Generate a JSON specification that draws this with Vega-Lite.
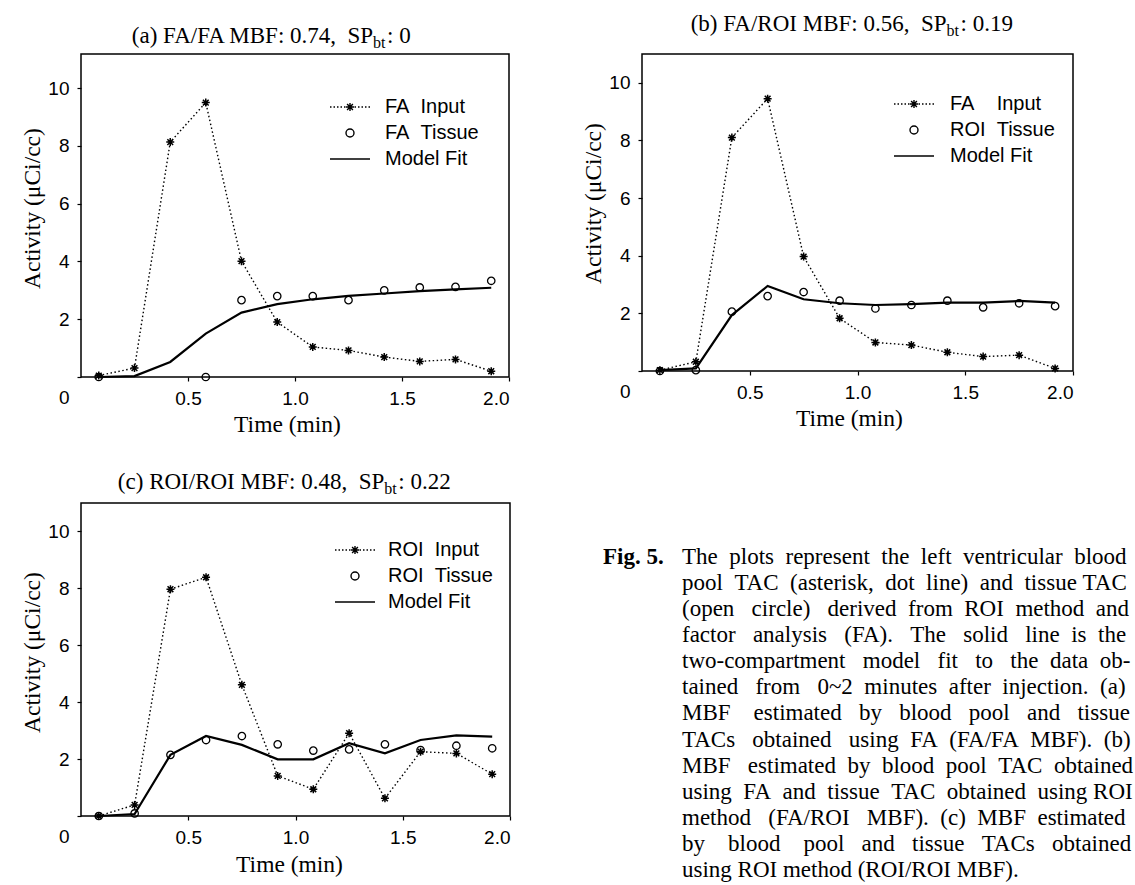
{
  "$schema": "https://vega.github.io/schema/vega-lite/v6.json",
  "autosize": {"type": "none"},
  "padding": {"left": 81, "top": 54, "right": 1054, "bottom": 831},
  "background": "white",
  "config": {
    "view": {"stroke": "black", "strokeWidth": 1.5},
    "axis": {"labelFont": "Liberation Sans", "labelFontSize": 19, "labelColor": "black", "titleFont": "Liberation Serif", "titleFontSize": 23.5, "titleFontWeight": "normal", "titleColor": "black", "tickColor": "black", "tickSize": 4, "tickWidth": 1.2, "domain": false, "grid": false, "labelPadding": 8},
    "legend": {"labelFont": "Liberation Sans", "labelFontSize": 20, "labelColor": "black", "symbolSize": 100, "rowPadding": 6, "padding": 0, "labelLimit": 400, "symbolStrokeColor": "black", "symbolStrokeWidth": 1.4}
  },
  "resolve": {"scale": {"shape": "independent"}, "legend": {"shape": "independent"}},
  "datasets": {
    "a": [
      {"t": 0.083, "inp": 0.05, "tis": 0, "fit": 0},
      {"t": 0.25, "inp": 0.31, "tis": null, "fit": 0.03},
      {"t": 0.417, "inp": 8.13, "tis": null, "fit": 0.52},
      {"t": 0.583, "inp": 9.5, "tis": 0, "fit": 1.5},
      {"t": 0.75, "inp": 4.01, "tis": 2.66, "fit": 2.23},
      {"t": 0.917, "inp": 1.9, "tis": 2.8, "fit": 2.52},
      {"t": 1.083, "inp": 1.04, "tis": 2.8, "fit": 2.69},
      {"t": 1.25, "inp": 0.92, "tis": 2.66, "fit": 2.81},
      {"t": 1.417, "inp": 0.69, "tis": 3.0, "fit": 2.89},
      {"t": 1.583, "inp": 0.54, "tis": 3.1, "fit": 2.97},
      {"t": 1.75, "inp": 0.61, "tis": 3.12, "fit": 3.03},
      {"t": 1.917, "inp": 0.2, "tis": 3.33, "fit": 3.09}
    ],
    "b": [
      {"t": 0.083, "inp": 0.03, "tis": 0, "fit": 0.03},
      {"t": 0.25, "inp": 0.32, "tis": 0.03, "fit": 0.09},
      {"t": 0.417, "inp": 8.1, "tis": 2.06, "fit": 1.94},
      {"t": 0.583, "inp": 9.45, "tis": 2.6, "fit": 2.95},
      {"t": 0.75, "inp": 3.97, "tis": 2.74, "fit": 2.49},
      {"t": 0.917, "inp": 1.83, "tis": 2.44, "fit": 2.35},
      {"t": 1.083, "inp": 0.99, "tis": 2.17, "fit": 2.29},
      {"t": 1.25, "inp": 0.9, "tis": 2.29, "fit": 2.32},
      {"t": 1.417, "inp": 0.65, "tis": 2.44, "fit": 2.37},
      {"t": 1.583, "inp": 0.5, "tis": 2.21, "fit": 2.37},
      {"t": 1.75, "inp": 0.55, "tis": 2.35, "fit": 2.43},
      {"t": 1.917, "inp": 0.09, "tis": 2.25, "fit": 2.37}
    ],
    "c": [
      {"t": 0.083, "inp": 0.0, "tis": 0, "fit": 0},
      {"t": 0.25, "inp": 0.39, "tis": 0.09, "fit": 0.07},
      {"t": 0.417, "inp": 7.97, "tis": 2.15, "fit": 2.15},
      {"t": 0.583, "inp": 8.39, "tis": 2.67, "fit": 2.81},
      {"t": 0.75, "inp": 4.61, "tis": 2.81, "fit": 2.5},
      {"t": 0.917, "inp": 1.41, "tis": 2.52, "fit": 1.99},
      {"t": 1.083, "inp": 0.94, "tis": 2.3, "fit": 1.99},
      {"t": 1.25, "inp": 2.91, "tis": 2.34, "fit": 2.56},
      {"t": 1.417, "inp": 0.62, "tis": 2.52, "fit": 2.2},
      {"t": 1.583, "inp": 2.26, "tis": 2.32, "fit": 2.67},
      {"t": 1.75, "inp": 2.2, "tis": 2.47, "fit": 2.83},
      {"t": 1.917, "inp": 1.47, "tis": 2.38, "fit": 2.79}
    ],
    "cap": [
      {"line": 1, "col": "label", "txt": "Fig. 5."},
      {"line": 1, "col": "body", "txt": "The\u00a0\u00a0plots\u00a0\u00a0represent\u00a0\u00a0the\u00a0\u00a0left\u00a0\u00a0ventricular\u00a0\u00a0blood"},
      {"line": 2, "col": "body", "txt": "pool\u00a0\u00a0TAC\u00a0\u00a0(asterisk,\u00a0\u00a0dot\u00a0\u00a0line)\u00a0\u00a0and\u00a0\u00a0tissue\u00a0TAC"},
      {"line": 3, "col": "body", "txt": "(open\u00a0\u00a0\u00a0circle)\u00a0\u00a0\u00a0derived\u00a0\u00a0from\u00a0\u00a0ROI\u00a0\u00a0method\u00a0\u00a0and"},
      {"line": 4, "col": "body", "txt": "factor\u00a0\u00a0\u00a0analysis\u00a0\u00a0\u00a0(FA).\u00a0\u00a0\u00a0The\u00a0\u00a0\u00a0solid\u00a0\u00a0\u00a0line\u00a0\u00a0is\u00a0\u00a0the"},
      {"line": 5, "col": "body", "txt": "two-compartment\u00a0\u00a0\u00a0model\u00a0\u00a0\u00a0fit\u00a0\u00a0\u00a0to\u00a0\u00a0\u00a0the\u00a0\u00a0data\u00a0\u00a0ob-"},
      {"line": 6, "col": "body", "txt": "tained\u00a0\u00a0\u00a0from\u00a0\u00a0\u00a00~2\u00a0\u00a0minutes\u00a0\u00a0after\u00a0\u00a0injection.\u00a0\u00a0(a)"},
      {"line": 7, "col": "body", "txt": "MBF\u00a0\u00a0\u00a0\u00a0estimated\u00a0\u00a0\u00a0by\u00a0\u00a0\u00a0blood\u00a0\u00a0\u00a0pool\u00a0\u00a0\u00a0and\u00a0\u00a0\u00a0tissue"},
      {"line": 8, "col": "body", "txt": "TACs\u00a0\u00a0\u00a0obtained\u00a0\u00a0\u00a0using\u00a0\u00a0FA\u00a0\u00a0(FA/FA\u00a0\u00a0MBF).\u00a0\u00a0(b)"},
      {"line": 9, "col": "body", "txt": "MBF\u00a0\u00a0\u00a0estimated\u00a0\u00a0by\u00a0\u00a0blood\u00a0\u00a0pool\u00a0\u00a0TAC\u00a0\u00a0obtained"},
      {"line": 10, "col": "body", "txt": "using\u00a0\u00a0FA\u00a0\u00a0and\u00a0\u00a0tissue\u00a0\u00a0TAC\u00a0\u00a0obtained\u00a0\u00a0using\u00a0ROI"},
      {"line": 11, "col": "body", "txt": "method\u00a0\u00a0\u00a0(FA/ROI\u00a0\u00a0\u00a0MBF).\u00a0\u00a0(c)\u00a0\u00a0MBF\u00a0\u00a0estimated"},
      {"line": 12, "col": "body", "txt": "by\u00a0\u00a0\u00a0\u00a0blood\u00a0\u00a0\u00a0\u00a0pool\u00a0\u00a0\u00a0and\u00a0\u00a0\u00a0tissue\u00a0\u00a0\u00a0TACs\u00a0\u00a0\u00a0obtained"},
      {"line": 13, "col": "body", "txt": "using ROI method (ROI/ROI MBF)."}
    ]
  },
  "concat": [
    {
      "width": 428, "height": 323,
      "data": {"name": "a"},
      "layer": [
        {"mark": {"type": "line", "color": "black", "strokeWidth": 2.2},
         "encoding": {
           "x": {"field": "t", "type": "quantitative", "scale": {"domain": [0, 2], "nice": false, "zero": false}, "axis": {"values": [0.5, 1, 1.5, 2], "format": ".1f", "title": "Time (min)", "titleX": 206, "titleY": 35}},
           "y": {"field": "fit", "type": "quantitative", "scale": {"domain": [0, 11.18], "nice": false}, "axis": {"values": [0, 2, 4, 6, 8, 10], "title": "Activity (μCi/cc)", "titleX": -37, "titleY": 154, "labelOffset": {"condition": {"test": "datum.value == 0", "value": 20}, "value": 0}}}
         }},
        {"mark": {"type": "line", "color": "black", "strokeWidth": 1.4, "strokeDash": [1.5, 2.5]},
         "encoding": {"x": {"field": "t", "type": "quantitative"}, "y": {"field": "inp", "type": "quantitative"}}},
        {"mark": {"type": "point", "shape": "M-1,0H1M0,-1V1M-0.72,-0.72L0.72,0.72M-0.72,0.72L0.72,-0.72", "size": 64, "color": "black", "filled": false, "strokeWidth": 1.5, "opacity": 1},
         "encoding": {"x": {"field": "t", "type": "quantitative"}, "y": {"field": "inp", "type": "quantitative"}}},
        {"mark": {"type": "point", "shape": "circle", "size": 55, "color": "black", "filled": false, "strokeWidth": 1.3, "opacity": 1},
         "encoding": {"x": {"field": "t", "type": "quantitative"}, "y": {"field": "tis", "type": "quantitative"}}},
        {"data": {"values": [{"s": "FA\u00a0\u00a0Input"}, {"s": "FA\u00a0\u00a0Tissue"}, {"s": "Model Fit"}]},
         "mark": {"type": "point", "opacity": 0, "filled": false, "color": "black"},
         "encoding": {"shape": {"field": "s", "type": "nominal", "sort": null,
           "scale": {"domain": ["FA\u00a0\u00a0Input", "FA\u00a0\u00a0Tissue", "Model Fit"], "range": ["M-4,0h0.3M-3.3,0h0.3M-2.6,0h0.3M-1.9,0h0.3M-1.2,0h0.3M0.9,0h0.3M1.6,0h0.3M2.3,0h0.3M3,0h0.3M3.7,0h0.3M-0.8,0H0.8M0,-0.8V0.8M-0.58,-0.58L0.58,0.58M-0.58,0.58L0.58,-0.58", "M0.8,0A0.8,0.8,0,1,1,-0.8,0A0.8,0.8,0,1,1,0.8,0Z", "M-4,0H4"]},
           "legend": {"orient": "none", "legendX": 259, "legendY": 43, "title": null, "labelOffset": 25,
             "encode": {"symbols": {"strokeWidth": {"signal": "datum.value == 'Model Fit' ? 2.2 : 1.4"}, "opacity": {"value": 1}, "stroke": {"value": "black"}, "fill": {"value": "transparent"}}}}}}},
        {"data": {"values": [{}]}, "mark": {"type": "text", "align": "right", "baseline": "alphabetic", "font": "Liberation Serif", "fontSize": 23, "color": "black"},
         "encoding": {"x": {"datum": 1.365, "type": "quantitative"}, "y": {"datum": 11.575, "type": "quantitative"}, "text": {"value": "(a) FA/FA MBF: 0.74,\u00a0\u00a0SP"}}},
        {"data": {"values": [{}]}, "mark": {"type": "text", "align": "left", "baseline": "alphabetic", "font": "Liberation Serif", "fontSize": 16, "dy": 5, "color": "black"},
         "encoding": {"x": {"datum": 1.365, "type": "quantitative"}, "y": {"datum": 11.575, "type": "quantitative"}, "text": {"value": "bt"}}},
        {"data": {"values": [{}]}, "mark": {"type": "text", "align": "left", "baseline": "alphabetic", "font": "Liberation Serif", "fontSize": 23, "dx": 14, "color": "black"},
         "encoding": {"x": {"datum": 1.365, "type": "quantitative"}, "y": {"datum": 11.575, "type": "quantitative"}, "text": {"value": ": 0"}}}
      ]
    },
    {
      "width": 431, "height": 317,
      "data": {"name": "b"},
      "layer": [
        {"mark": {"type": "line", "color": "black", "strokeWidth": 2.2},
         "encoding": {
           "x": {"field": "t", "type": "quantitative", "scale": {"domain": [0, 2], "nice": false, "zero": false}, "axis": {"values": [0.5, 1, 1.5, 2], "format": ".1f", "title": "Time (min)", "titleX": 207, "titleY": 35}},
           "y": {"field": "fit", "type": "quantitative", "scale": {"domain": [0, 11], "nice": false}, "axis": {"values": [0, 2, 4, 6, 8, 10], "title": "Activity (μCi/cc)", "titleX": -37, "titleY": 149, "labelOffset": {"condition": {"test": "datum.value == 0", "value": 20}, "value": 0}}}
         }},
        {"mark": {"type": "line", "color": "black", "strokeWidth": 1.4, "strokeDash": [1.5, 2.5]},
         "encoding": {"x": {"field": "t", "type": "quantitative"}, "y": {"field": "inp", "type": "quantitative"}}},
        {"mark": {"type": "point", "shape": "M-1,0H1M0,-1V1M-0.72,-0.72L0.72,0.72M-0.72,0.72L0.72,-0.72", "size": 64, "color": "black", "filled": false, "strokeWidth": 1.5, "opacity": 1},
         "encoding": {"x": {"field": "t", "type": "quantitative"}, "y": {"field": "inp", "type": "quantitative"}}},
        {"mark": {"type": "point", "shape": "circle", "size": 55, "color": "black", "filled": false, "strokeWidth": 1.3, "opacity": 1},
         "encoding": {"x": {"field": "t", "type": "quantitative"}, "y": {"field": "tis", "type": "quantitative"}}},
        {"data": {"values": [{"s": "FA\u00a0\u00a0\u00a0\u00a0Input"}, {"s": "ROI\u00a0\u00a0Tissue"}, {"s": "Model Fit"}]},
         "mark": {"type": "point", "opacity": 0, "filled": false, "color": "black"},
         "encoding": {"shape": {"field": "s", "type": "nominal", "sort": null,
           "scale": {"domain": ["FA\u00a0\u00a0\u00a0\u00a0Input", "ROI\u00a0\u00a0Tissue", "Model Fit"], "range": ["M-4,0h0.3M-3.3,0h0.3M-2.6,0h0.3M-1.9,0h0.3M-1.2,0h0.3M0.9,0h0.3M1.6,0h0.3M2.3,0h0.3M3,0h0.3M3.7,0h0.3M-0.8,0H0.8M0,-0.8V0.8M-0.58,-0.58L0.58,0.58M-0.58,0.58L0.58,-0.58", "M0.8,0A0.8,0.8,0,1,1,-0.8,0A0.8,0.8,0,1,1,0.8,0Z", "M-4,0H4"]},
           "legend": {"orient": "none", "legendX": 262, "legendY": 40, "title": null, "labelOffset": 26,
             "encode": {"symbols": {"strokeWidth": {"signal": "datum.value == 'Model Fit' ? 2.2 : 1.4"}, "opacity": {"value": 1}, "stroke": {"value": "black"}, "fill": {"value": "transparent"}}}}}}},
        {"data": {"values": [{}]}, "mark": {"type": "text", "align": "right", "baseline": "alphabetic", "font": "Liberation Serif", "fontSize": 23, "color": "black"},
         "encoding": {"x": {"datum": 1.413, "type": "quantitative"}, "y": {"datum": 11.8, "type": "quantitative"}, "text": {"value": "(b) FA/ROI MBF: 0.56,\u00a0\u00a0SP"}}},
        {"data": {"values": [{}]}, "mark": {"type": "text", "align": "left", "baseline": "alphabetic", "font": "Liberation Serif", "fontSize": 16, "dy": 5, "color": "black"},
         "encoding": {"x": {"datum": 1.413, "type": "quantitative"}, "y": {"datum": 11.8, "type": "quantitative"}, "text": {"value": "bt"}}},
        {"data": {"values": [{}]}, "mark": {"type": "text", "align": "left", "baseline": "alphabetic", "font": "Liberation Serif", "fontSize": 23, "dx": 14, "color": "black"},
         "encoding": {"x": {"datum": 1.413, "type": "quantitative"}, "y": {"datum": 11.8, "type": "quantitative"}, "text": {"value": ": 0.19"}}}
      ]
    },
    {
      "width": 429, "height": 313,
      "data": {"name": "c"},
      "layer": [
        {"mark": {"type": "line", "color": "black", "strokeWidth": 2.2},
         "encoding": {
           "x": {"field": "t", "type": "quantitative", "scale": {"domain": [0, 2], "nice": false, "zero": false}, "axis": {"values": [0.5, 1, 1.5, 2], "format": ".1f", "title": "Time (min)", "titleX": 208, "titleY": 36}},
           "y": {"field": "fit", "type": "quantitative", "scale": {"domain": [0, 11], "nice": false}, "axis": {"values": [0, 2, 4, 6, 8, 10], "title": "Activity (μCi/cc)", "titleX": -37, "titleY": 149, "labelOffset": {"condition": {"test": "datum.value == 0", "value": 20}, "value": 0}}}
         }},
        {"mark": {"type": "line", "color": "black", "strokeWidth": 1.4, "strokeDash": [1.5, 2.5]},
         "encoding": {"x": {"field": "t", "type": "quantitative"}, "y": {"field": "inp", "type": "quantitative"}}},
        {"mark": {"type": "point", "shape": "M-1,0H1M0,-1V1M-0.72,-0.72L0.72,0.72M-0.72,0.72L0.72,-0.72", "size": 64, "color": "black", "filled": false, "strokeWidth": 1.5, "opacity": 1},
         "encoding": {"x": {"field": "t", "type": "quantitative"}, "y": {"field": "inp", "type": "quantitative"}}},
        {"mark": {"type": "point", "shape": "circle", "size": 55, "color": "black", "filled": false, "strokeWidth": 1.3, "opacity": 1},
         "encoding": {"x": {"field": "t", "type": "quantitative"}, "y": {"field": "tis", "type": "quantitative"}}},
        {"data": {"values": [{"s": "ROI\u00a0\u00a0Input"}, {"s": "ROI\u00a0\u00a0Tissue"}, {"s": "Model Fit"}]},
         "mark": {"type": "point", "opacity": 0, "filled": false, "color": "black"},
         "encoding": {"shape": {"field": "s", "type": "nominal", "sort": null,
           "scale": {"domain": ["ROI\u00a0\u00a0Input", "ROI\u00a0\u00a0Tissue", "Model Fit"], "range": ["M-4,0h0.3M-3.3,0h0.3M-2.6,0h0.3M-1.9,0h0.3M-1.2,0h0.3M0.9,0h0.3M1.6,0h0.3M2.3,0h0.3M3,0h0.3M3.7,0h0.3M-0.8,0H0.8M0,-0.8V0.8M-0.58,-0.58L0.58,0.58M-0.58,0.58L0.58,-0.58", "M0.8,0A0.8,0.8,0,1,1,-0.8,0A0.8,0.8,0,1,1,0.8,0Z", "M-4,0H4"]},
           "legend": {"orient": "none", "legendX": 264, "legendY": 37, "title": null, "labelOffset": 23,
             "encode": {"symbols": {"strokeWidth": {"signal": "datum.value == 'Model Fit' ? 2.2 : 1.4"}, "opacity": {"value": 1}, "stroke": {"value": "black"}, "fill": {"value": "transparent"}}}}}}},
        {"data": {"values": [{}]}, "mark": {"type": "text", "align": "right", "baseline": "alphabetic", "font": "Liberation Serif", "fontSize": 23, "color": "black"},
         "encoding": {"x": {"datum": 1.414, "type": "quantitative"}, "y": {"datum": 11.48, "type": "quantitative"}, "text": {"value": "(c) ROI/ROI MBF: 0.48,\u00a0\u00a0SP"}}},
        {"data": {"values": [{}]}, "mark": {"type": "text", "align": "left", "baseline": "alphabetic", "font": "Liberation Serif", "fontSize": 16, "dy": 5, "color": "black"},
         "encoding": {"x": {"datum": 1.414, "type": "quantitative"}, "y": {"datum": 11.48, "type": "quantitative"}, "text": {"value": "bt"}}},
        {"data": {"values": [{}]}, "mark": {"type": "text", "align": "left", "baseline": "alphabetic", "font": "Liberation Serif", "fontSize": 23, "dx": 14, "color": "black"},
         "encoding": {"x": {"datum": 1.414, "type": "quantitative"}, "y": {"datum": 11.48, "type": "quantitative"}, "text": {"value": ": 0.22"}}}
      ]
    },
    {
      "width": 446, "height": 380,
      "view": {"stroke": null},
      "data": {"name": "cap"},
      "encoding": {
        "x": {"field": "col", "type": "nominal", "axis": null, "scale": {"type": "point", "domain": ["label", "body"], "range": [-39, 40], "padding": 0}},
        "y": {"field": "line", "type": "quantitative", "axis": null, "scale": {"domain": [-1.07, 13.5], "nice": false, "zero": false, "reverse": true}},
        "text": {"field": "txt"}
      },
      "layer": [
        {"transform": [{"filter": "datum.col == 'label'"}], "mark": {"type": "text", "align": "left", "baseline": "middle", "font": "Liberation Serif", "fontSize": 23, "fontWeight": "bold", "color": "black"}},
        {"transform": [{"filter": "datum.col == 'body'"}], "mark": {"type": "text", "align": "left", "baseline": "middle", "font": "Liberation Serif", "fontSize": 23, "color": "black"}}
      ]
    }
  ],
  "columns": 2,
  "align": "each",
  "bounds": "flush",
  "spacing": {"row": 126, "column": 132}
}
